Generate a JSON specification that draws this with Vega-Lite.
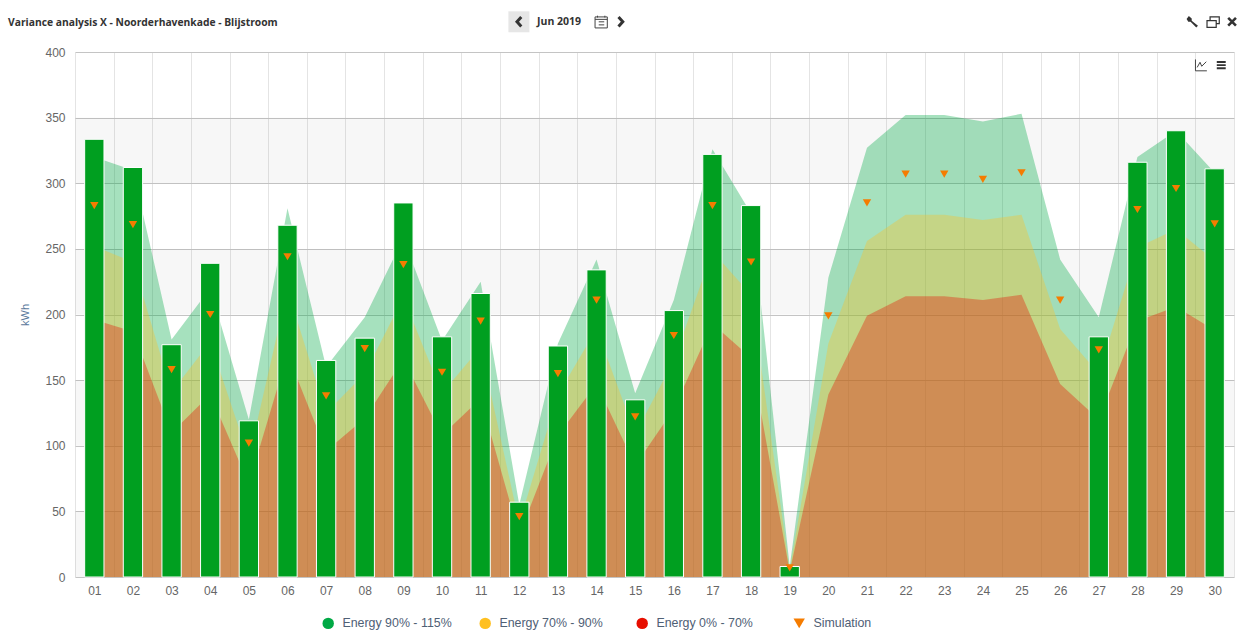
{
"$schema":"https://vega.github.io/schema/vega-lite/v6.json",
"width":1159,"height":525,
"padding":{"left":75,"top":52,"right":3,"bottom":54},
"autosize":{"type":"none"},
"background":"#ffffff",
"title":{"text":"Variance analysis X - Noorderhavenkade - Blijstroom","anchor":"start","frame":"group","dx":-67,"dy":37,"offset":20,"font":"Open Sans","fontSize":10.3,"fontWeight":"bold","color":"#333333"},
"config":{"view":{"stroke":null}},
"datasets":{
"days":[
{"day":"01","energy":333.5,"sim":283,"high":320,"mid":252,"low":196},
{"day":"02","energy":312,"sim":268.5,"high":310,"mid":240,"low":187},
{"day":"03","energy":177,"sim":158,"high":181,"mid":141,"low":110},
{"day":"04","energy":239,"sim":200,"high":220,"mid":179,"low":139},
{"day":"05","energy":119,"sim":102,"high":120,"mid":91,"low":71},
{"day":"06","energy":268,"sim":244,"high":281,"mid":219,"low":170},
{"day":"07","energy":165,"sim":138,"high":160,"mid":125,"low":96},
{"day":"08","energy":182,"sim":174,"high":198,"mid":155,"low":121},
{"day":"09","energy":285,"sim":238,"high":258,"mid":213,"low":166},
{"day":"10","energy":183,"sim":156,"high":180,"mid":140,"low":108},
{"day":"11","energy":216,"sim":195,"high":225,"mid":175,"low":136},
{"day":"12","energy":57,"sim":46,"high":55,"mid":41,"low":32},
{"day":"13","energy":176,"sim":155,"high":178,"mid":139,"low":108},
{"day":"14","energy":234,"sim":211,"high":242,"mid":189,"low":147},
{"day":"15","energy":135,"sim":122,"high":140,"mid":109,"low":85},
{"day":"16","energy":203,"sim":184,"high":211,"mid":165,"low":128},
{"day":"17","energy":322,"sim":283,"high":326,"mid":248,"low":193},
{"day":"18","energy":283,"sim":240,"high":277,"mid":215,"low":167},
{"day":"19","energy":8,"sim":7,"high":8,"mid":5,"low":4},
{"day":"20","sim":199,"high":228,"mid":178,"low":139},
{"day":"21","sim":285,"high":327,"mid":256,"low":199},
{"day":"22","sim":307,"high":352,"mid":276,"low":214},
{"day":"23","sim":307,"high":352,"mid":276,"low":214},
{"day":"24","sim":303,"high":347,"mid":272,"low":211},
{"day":"25","sim":308,"high":353,"mid":276,"low":215},
{"day":"26","sim":211,"high":242,"mid":189,"low":147},
{"day":"27","energy":183,"sim":173,"high":198,"mid":155,"low":120},
{"day":"28","energy":316,"sim":280,"high":320,"mid":251,"low":195},
{"day":"29","energy":340,"sim":296,"high":340,"mid":265,"low":206},
{"day":"30","energy":311,"sim":269,"high":308,"mid":241,"low":188}
],
"bands":[{"from":0,"to":50},{"from":100,"to":150},{"from":200,"to":250},{"from":300,"to":350}]
},
"encoding":{
"x":{"field":"day","type":"ordinal","scale":{"type":"band","paddingInner":0,"paddingOuter":0},
"axis":{"title":null,"labelAngle":0,"labelFont":"Liberation Sans","labelFontSize":12,"labelColor":"#666666","labelPadding":8,"grid":true,"gridColor":"#e4e4e4","gridWidth":1,"tickBand":"extent","ticks":false,"domain":false}}
},
"layer":[
{"data":{"name":"bands"},"mark":{"type":"rect","color":"#6b5b5b","opacity":0.05},
"encoding":{"x":{},"y":{"field":"from","type":"quantitative"},"y2":{"field":"to"}}},
{"data":{"name":"days"},"mark":{"type":"area","fillOpacity":0.35,"interpolate":"linear"},
"encoding":{"y":{"field":"high","type":"quantitative","stack":null,
"scale":{"domain":[0,400],"nice":false},
"axis":{"title":"kWh","titleFont":"Liberation Sans","titleFontSize":11,"titleFontWeight":"normal","titleColor":"#5b7a9c","titlePadding":14,"labelFont":"Liberation Sans","labelFontSize":12,"labelColor":"#666666","labelPadding":10,"values":[0,50,100,150,200,250,300,350,400],"grid":true,"gridColor":"#c4c4c4","gridWidth":1,"ticks":false,"domain":false}},
"color":{"datum":"Energy 90% - 115%","type":"nominal"}}},
{"data":{"name":"days"},"mark":{"type":"area","fillOpacity":0.35},
"encoding":{"y":{"field":"mid","type":"quantitative","stack":null},"color":{"datum":"Energy 70% - 90%","type":"nominal"}}},
{"data":{"name":"days"},"mark":{"type":"area","fillOpacity":0.35},
"encoding":{"y":{"field":"low","type":"quantitative","stack":null},"color":{"datum":"Energy 0% - 70%","type":"nominal"}}},
{"data":{"name":"days"},"transform":[{"filter":"isValid(datum.energy)"}],"mark":{"type":"bar","width":{"band":0.5},"color":"#009f20","stroke":"#ffffff","strokeWidth":1},
"encoding":{"y":{"field":"energy","type":"quantitative","stack":null}}},
{"data":{"name":"days"},"mark":{"type":"point","filled":true,"opacity":1,"size":70},
"encoding":{"y":{"field":"sim","type":"quantitative"},
"color":{"datum":"Simulation","type":"nominal",
"scale":{"domain":["Energy 90% - 115%","Energy 70% - 90%","Energy 0% - 70%","Simulation"],"range":["#00a945","#ffc020","#e70e00","#f57c00"]},
"legend":{"title":null,"orient":"none","legendX":247,"legendY":565,"direction":"horizontal","columns":4,"gridAlign":"all","columnPadding":27,"labelFont":"Liberation Sans","labelFontSize":12.4,"labelColor":"#4f6075","symbolSize":130,"symbolOpacity":1,"symbolFillOpacity":1,"symbolStrokeWidth":0,"labelOffset":8}},
"shape":{"datum":"Simulation","type":"nominal",
"scale":{"domain":["Energy 90% - 115%","Energy 70% - 90%","Energy 0% - 70%","Simulation"],"range":["circle","circle","circle","triangle-down"]},
"legend":{"title":null}}}},
{"data":{"values":[{"day":"12","y":423}]},"mark":{"type":"point","shape":"square","filled":true,"color":"#e6e6e6","size":440,"opacity":1},
"encoding":{"x":{"field":"day","type":"ordinal","bandPosition":0.49},"y":{"field":"y","type":"quantitative"}}},
{"data":{"values":[{"day":"12","y":423}]},"mark":{"type":"point","shape":"M0.5,-1 L-0.4,0 L0.5,1","filled":false,"color":"#333333","strokeWidth":3,"size":90,"opacity":1},
"encoding":{"x":{"field":"day","type":"ordinal","bandPosition":0.49},"y":{"field":"y","type":"quantitative"}}},
{"data":{"values":[{"day":"15","y":423}]},"mark":{"type":"point","shape":"M-0.5,-1 L0.4,0 L-0.5,1","filled":false,"color":"#333333","strokeWidth":3,"size":90,"opacity":1},
"encoding":{"x":{"field":"day","type":"ordinal","bandPosition":0.13},"y":{"field":"y","type":"quantitative"}}},
{"data":{"values":[{"day":"14","y":423}]},"mark":{"type":"point","shape":"M-1,-0.8 H1 V1 H-1 Z M-1,-0.4 H1 M-0.4,0 H0.5 M-0.4,0.5 H0.5 M-0.6,-1 V-0.7 M0.6,-1 V-0.7","filled":false,"color":"#444444","strokeWidth":1,"size":150,"opacity":1},
"encoding":{"x":{"field":"day","type":"ordinal","bandPosition":0.62},"y":{"field":"y","type":"quantitative"}}},
{"data":{"values":[{"day":"13","y":423,"label":"Jun 2019"}]},"mark":{"type":"text","font":"Open Sans","fontSize":10.5,"fontWeight":"bold","color":"#333333","align":"center","baseline":"middle"},
"encoding":{"x":{"field":"day","type":"ordinal","bandPosition":0.53},"y":{"field":"y","type":"quantitative"},"text":{"field":"label"}}},
{"data":{"values":[{"day":"29","y":423}]},"mark":{"type":"point","shape":"M-1,-0.5 L-0.6,-1 L-0.1,-0.6 L-0.1,-0.2 L1,0.7 L0.7,1 L-0.3,0 L-0.7,0 Z","filled":true,"color":"#333333","size":130,"opacity":1},
"encoding":{"x":{"field":"day","type":"ordinal","bandPosition":0.92},"y":{"field":"y","type":"quantitative"}}},
{"data":{"values":[{"day":"30","y":423}]},"mark":{"type":"point","shape":"M-1,-0.2 H0.5 V0.9 H-1 Z M-0.5,-0.2 V-0.8 H1 V0.3 H0.5","filled":false,"color":"#333333","strokeWidth":1.2,"size":150,"opacity":1},
"encoding":{"x":{"field":"day","type":"ordinal","bandPosition":0.46},"y":{"field":"y","type":"quantitative"}}},
{"data":{"values":[{"day":"30","y":423}]},"mark":{"type":"point","shape":"M-1,-1 L1,1 M1,-1 L-1,1","filled":false,"color":"#333333","strokeWidth":2.6,"size":60,"opacity":1},
"encoding":{"x":{"field":"day","type":"ordinal","bandPosition":0.95},"y":{"field":"y","type":"quantitative"}}},
{"data":{"values":[{"day":"30","y":390}]},"mark":{"type":"point","shape":"M-1,-1 V1 H1 M-0.7,0.4 L-0.2,-0.5 L0.1,0.2 L0.9,-0.6","filled":false,"color":"#444444","strokeWidth":1,"size":130,"opacity":1},
"encoding":{"x":{"field":"day","type":"ordinal","bandPosition":0.15},"y":{"field":"y","type":"quantitative"}}},
{"data":{"values":[{"day":"30","y":390}]},"mark":{"type":"point","shape":"M-1,-0.7 H1 M-1,0 H1 M-1,0.7 H1","filled":false,"color":"#333333","strokeWidth":1.8,"size":80,"opacity":1},
"encoding":{"x":{"field":"day","type":"ordinal","bandPosition":0.67},"y":{"field":"y","type":"quantitative"}}}
],
"resolve":{"scale":{"shape":"shared","color":"shared"}}
}
